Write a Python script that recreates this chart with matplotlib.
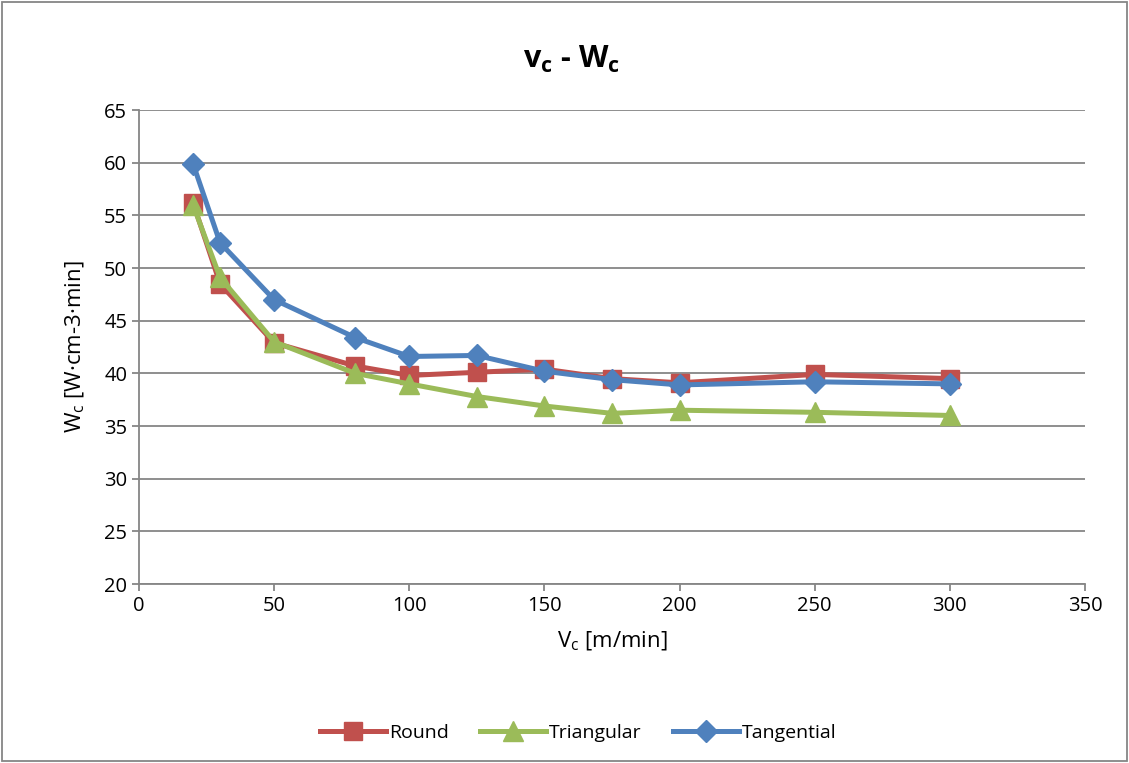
import matplotlib
matplotlib.use('Agg')
import matplotlib.pyplot as plt
from matplotlib.patches import Rectangle

plt.rcParams['font.family'] = ['Open Sans', 'DejaVu Sans']
plt.rcParams['mathtext.fontset'] = 'custom'
plt.rcParams['mathtext.rm'] = 'Open Sans'
plt.rcParams['mathtext.bf'] = 'Open Sans:bold'

vc = [20, 30, 50, 80, 100, 125, 150, 175, 200, 250, 300]
round_w = [56.2, 48.5, 42.9, 40.7, 39.8, 40.1, 40.4, 39.5, 39.1, 39.9, 39.5]
triang_w = [56.0, 49.1, 43.0, 40.0, 39.0, 37.8, 36.9, 36.2, 36.5, 36.3, 36.0]
tang_w = [59.9, 52.4, 47.0, 43.4, 41.6, 41.7, 40.2, 39.4, 38.9, 39.2, 39.0]

fig = plt.figure(figsize=(11.29, 7.63), dpi=100)
ax = fig.add_axes([0.1231, 0.2346, 0.8379, 0.6212])

ax.plot(vc, round_w, color='#C0504D', lw=3.6, marker='s', ms=13, label='Round')
ax.plot(vc, triang_w, color='#9BBB59', lw=3.6, marker='^', ms=14, label='Triangular')
ax.plot(vc, tang_w, color='#4F81BD', lw=3.6, marker='D', ms=11, label='Tangential')

ax.set_xlim(0, 350)
ax.set_ylim(20, 65)
ax.set_xticks(range(0, 351, 50))
ax.set_yticks(range(20, 66, 5))
ax.grid(axis='y', color='#868686', lw=1.3)
ax.set_axisbelow(True)
for s in ['top', 'right']:
    ax.spines[s].set_visible(False)
for s in ['left', 'bottom']:
    ax.spines[s].set_color('#868686')
    ax.spines[s].set_linewidth(1.3)
ax.tick_params(colors='#868686', labelcolor='black', labelsize=14.5, length=5, width=1.3)

fig.text(0.506, 0.922, r'$\mathbf{v_c}$ - $\mathbf{W_c}$', fontsize=22, fontweight='bold',
         ha='center', va='center')
ax.set_xlabel(r'V$_\mathrm{c}$ [m/min]', fontsize=16, labelpad=10)
ax.set_ylabel(r'W$_\mathrm{c}$ [W·cm-3·min]', fontsize=16, labelpad=12)

fig.legend(loc='lower center', bbox_to_anchor=(0.512, 0.005), ncol=3, frameon=False,
           fontsize=14, handlelength=3.4, handletextpad=0.15, columnspacing=1.6)

fig.patches.append(Rectangle((0.002, 0.002), 0.996, 0.996, transform=fig.transFigure,
                             fill=False, edgecolor='#868686', lw=1.3))

fig.savefig('out.png', dpi=100)
